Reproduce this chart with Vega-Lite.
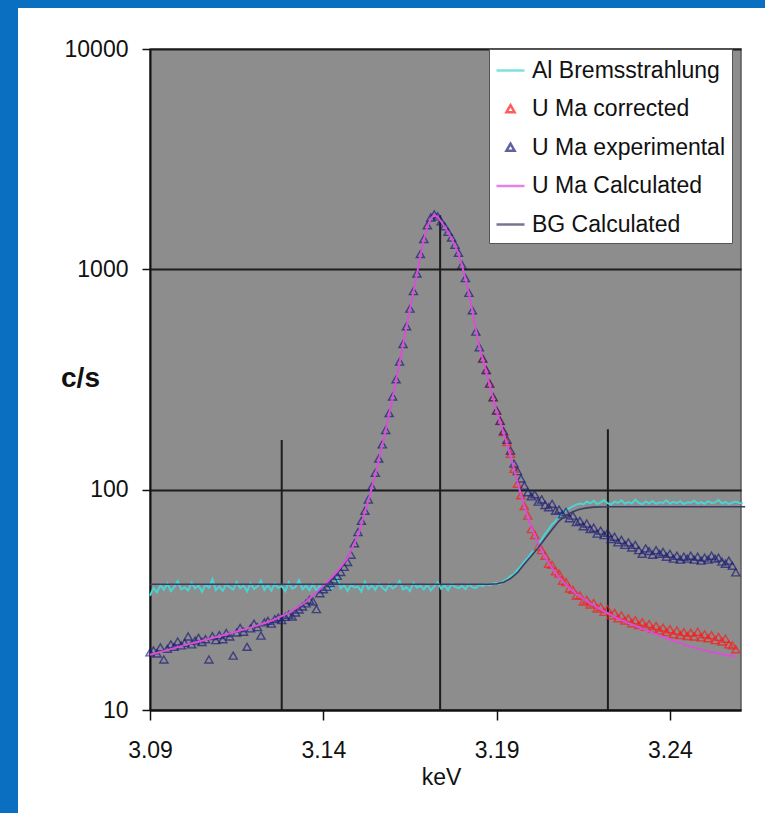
{
  "$schema": "https://vega.github.io/schema/vega-lite/v6.json",
  "width": 591,
  "height": 661,
  "autosize": "none",
  "padding": {"left": 150, "top": 49, "right": 24, "bottom": 103},
  "background": "#ffffff",
  "config": {
    "font": "Liberation Sans",
    "view": {"fill": "#8d8d8d", "stroke": "#5a5a5a", "strokeWidth": 1.5}
  },
  "datasets": {
    "frame": [
      {"keV": 3.0, "keV2": 3.05192, "cps": 1, "cps2": 100000},
      {"keV": 3.0, "keV2": 3.4, "cps": 15352, "cps2": 100000}
    ],
    "markers": [
      {"keV": 3.128, "cps": 168, "cps2": 10},
      {"keV": 3.1737, "cps": 1760, "cps2": 10},
      {"keV": 3.2221, "cps": 188, "cps2": 10}
    ],
    "al": [
      {"keV":3.090,"cps":33.0},{"keV":3.091,"cps":35.8},{"keV":3.092,"cps":34.2},{"keV":3.093,"cps":36.9},{"keV":3.094,"cps":35.1},{"keV":3.095,"cps":37.5},{"keV":3.096,"cps":34.6},{"keV":3.097,"cps":36.2},{"keV":3.098,"cps":38.4},{"keV":3.099,"cps":35.3},
      {"keV":3.100,"cps":36.0},{"keV":3.101,"cps":34.9},{"keV":3.102,"cps":37.8},{"keV":3.103,"cps":35.6},{"keV":3.104,"cps":36.7},{"keV":3.105,"cps":34.4},{"keV":3.106,"cps":37.1},{"keV":3.107,"cps":35.9},{"keV":3.108,"cps":39.2},{"keV":3.109,"cps":35.0},
      {"keV":3.110,"cps":36.4},{"keV":3.111,"cps":34.7},{"keV":3.112,"cps":37.3},{"keV":3.113,"cps":36.1},{"keV":3.114,"cps":35.2},{"keV":3.115,"cps":38.0},{"keV":3.116,"cps":35.7},{"keV":3.117,"cps":36.8},{"keV":3.118,"cps":34.5},{"keV":3.119,"cps":37.6},
      {"keV":3.120,"cps":35.4},{"keV":3.121,"cps":36.3},{"keV":3.122,"cps":38.6},{"keV":3.123,"cps":35.1},{"keV":3.124,"cps":36.9},{"keV":3.125,"cps":34.8},{"keV":3.126,"cps":37.4},{"keV":3.127,"cps":35.8},{"keV":3.128,"cps":36.5},{"keV":3.129,"cps":34.6},
      {"keV":3.130,"cps":37.9},{"keV":3.131,"cps":35.5},{"keV":3.132,"cps":36.2},{"keV":3.133,"cps":38.8},{"keV":3.134,"cps":35.3},{"keV":3.135,"cps":36.7},{"keV":3.136,"cps":35.0},{"keV":3.137,"cps":37.2},{"keV":3.138,"cps":34.9},{"keV":3.139,"cps":36.6},
      {"keV":3.140,"cps":35.7},{"keV":3.141,"cps":37.7},{"keV":3.142,"cps":35.2},{"keV":3.143,"cps":36.4},{"keV":3.144,"cps":39.5},{"keV":3.145,"cps":35.6},{"keV":3.146,"cps":36.9},{"keV":3.147,"cps":34.7},{"keV":3.148,"cps":37.0},{"keV":3.149,"cps":35.9},
      {"keV":3.150,"cps":36.3},{"keV":3.151,"cps":34.5},{"keV":3.152,"cps":38.2},{"keV":3.153,"cps":35.4},{"keV":3.154,"cps":36.8},{"keV":3.155,"cps":35.1},{"keV":3.156,"cps":37.5},{"keV":3.157,"cps":36.0},{"keV":3.158,"cps":34.8},{"keV":3.159,"cps":37.3},
      {"keV":3.160,"cps":35.6},{"keV":3.161,"cps":36.5},{"keV":3.162,"cps":38.5},{"keV":3.163,"cps":35.2},{"keV":3.164,"cps":36.1},{"keV":3.165,"cps":34.6},{"keV":3.166,"cps":37.8},{"keV":3.167,"cps":35.9},{"keV":3.168,"cps":36.7},{"keV":3.169,"cps":35.3},
      {"keV":3.170,"cps":37.1},{"keV":3.171,"cps":34.9},{"keV":3.172,"cps":36.4},{"keV":3.173,"cps":38.0},{"keV":3.174,"cps":35.5},{"keV":3.175,"cps":36.8},{"keV":3.176,"cps":35.0},{"keV":3.177,"cps":37.4},{"keV":3.178,"cps":36.2},{"keV":3.179,"cps":35.7},
      {"keV":3.180,"cps":36.6},{"keV":3.181,"cps":35.3},{"keV":3.182,"cps":37.2},{"keV":3.183,"cps":36.0},{"keV":3.184,"cps":35.8},{"keV":3.185,"cps":37.0},{"keV":3.186,"cps":36.5},{"keV":3.187,"cps":37.3},{"keV":3.188,"cps":36.8},{"keV":3.189,"cps":37.5},
      {"keV":3.190,"cps":37.8},{"keV":3.191,"cps":37.4},{"keV":3.192,"cps":38.6},{"keV":3.193,"cps":39.2},{"keV":3.194,"cps":40.5},{"keV":3.195,"cps":41.4},{"keV":3.196,"cps":43.2},{"keV":3.197,"cps":45.0},{"keV":3.198,"cps":47.2},{"keV":3.199,"cps":49.0},
      {"keV":3.200,"cps":51.5},{"keV":3.201,"cps":53.5},{"keV":3.202,"cps":56.5},{"keV":3.203,"cps":59.5},{"keV":3.204,"cps":63.0},{"keV":3.205,"cps":66.0},{"keV":3.206,"cps":69.5},{"keV":3.207,"cps":72.0},{"keV":3.208,"cps":75.5},{"keV":3.209,"cps":78.0},
      {"keV":3.210,"cps":80.5},{"keV":3.211,"cps":82.5},{"keV":3.212,"cps":84.0},{"keV":3.213,"cps":85.5},{"keV":3.214,"cps":86.5},
      {"keV":3.215,"cps":85.7},{"keV":3.216,"cps":88.3},{"keV":3.217,"cps":86.6},{"keV":3.218,"cps":89.0},{"keV":3.219,"cps":86.1},{"keV":3.220,"cps":87.5},{"keV":3.221,"cps":89.7},{"keV":3.222,"cps":86.8},{"keV":3.223,"cps":85.6},{"keV":3.224,"cps":88.2},
      {"keV":3.225,"cps":87.0},{"keV":3.226,"cps":89.4},{"keV":3.227,"cps":86.3},{"keV":3.228,"cps":87.8},{"keV":3.229,"cps":86.5},{"keV":3.230,"cps":90.0},{"keV":3.231,"cps":87.2},{"keV":3.232,"cps":85.9},{"keV":3.233,"cps":88.4},{"keV":3.234,"cps":86.7},
      {"keV":3.235,"cps":88.8},{"keV":3.236,"cps":86.2},{"keV":3.237,"cps":87.6},{"keV":3.238,"cps":87.1},{"keV":3.239,"cps":89.5},{"keV":3.240,"cps":86.4},{"keV":3.241,"cps":88.0},{"keV":3.242,"cps":86.8},{"keV":3.243,"cps":88.6},{"keV":3.244,"cps":86.0},
      {"keV":3.245,"cps":87.7},{"keV":3.246,"cps":87.3},{"keV":3.247,"cps":89.1},{"keV":3.248,"cps":86.5},{"keV":3.249,"cps":87.9},{"keV":3.250,"cps":86.3},{"keV":3.251,"cps":88.7},{"keV":3.252,"cps":87.0},{"keV":3.253,"cps":87.5},{"keV":3.254,"cps":89.8},
      {"keV":3.255,"cps":86.6},{"keV":3.256,"cps":88.1},{"keV":3.257,"cps":86.1},{"keV":3.258,"cps":87.4},{"keV":3.259,"cps":88.3},{"keV":3.260,"cps":87.0},{"keV":3.261,"cps":86.5}
    ],
    "corr": [
      {"keV":3.186,"cps":392},{"keV":3.187,"cps":348},{"keV":3.188,"cps":302},{"keV":3.189,"cps":262},{"keV":3.190,"cps":228},{"keV":3.191,"cps":204},{"keV":3.192,"cps":182},{"keV":3.193,"cps":164},{"keV":3.194,"cps":145},{"keV":3.195,"cps":124},
      {"keV":3.196,"cps":106},{"keV":3.197,"cps":94},{"keV":3.198,"cps":84},{"keV":3.199,"cps":76},{"keV":3.200,"cps":66},{"keV":3.201,"cps":62},{"keV":3.202,"cps":55},{"keV":3.203,"cps":53},{"keV":3.204,"cps":50},{"keV":3.205,"cps":46},
      {"keV":3.206,"cps":45.5},{"keV":3.207,"cps":42.5},{"keV":3.208,"cps":41.5},{"keV":3.209,"cps":38.5},{"keV":3.210,"cps":38},{"keV":3.211,"cps":35.5},{"keV":3.212,"cps":35},{"keV":3.213,"cps":33},{"keV":3.214,"cps":33},{"keV":3.215,"cps":31},
      {"keV":3.216,"cps":31.5},{"keV":3.217,"cps":30},{"keV":3.218,"cps":30.5},{"keV":3.219,"cps":28.8},{"keV":3.220,"cps":29.3},{"keV":3.221,"cps":27.8},{"keV":3.222,"cps":28.6},{"keV":3.223,"cps":26.8},{"keV":3.224,"cps":27.5},{"keV":3.225,"cps":26},
      {"keV":3.226,"cps":26.8},{"keV":3.227,"cps":25.4},{"keV":3.228,"cps":26},{"keV":3.229,"cps":24.7},{"keV":3.230,"cps":25.5},{"keV":3.231,"cps":24.2},{"keV":3.232,"cps":25},{"keV":3.233,"cps":23.8},{"keV":3.234,"cps":24.5},{"keV":3.235,"cps":23.3},
      {"keV":3.236,"cps":24},{"keV":3.237,"cps":22.9},{"keV":3.238,"cps":23.6},{"keV":3.239,"cps":22.5},{"keV":3.240,"cps":23.2},{"keV":3.241,"cps":22},{"keV":3.242,"cps":22.9},{"keV":3.243,"cps":21.8},{"keV":3.244,"cps":22.5},{"keV":3.245,"cps":21.6},
      {"keV":3.246,"cps":22.4},{"keV":3.247,"cps":21.5},{"keV":3.248,"cps":22.6},{"keV":3.249,"cps":21.3},{"keV":3.250,"cps":22},{"keV":3.251,"cps":21.1},{"keV":3.252,"cps":21.8},{"keV":3.253,"cps":20.7},{"keV":3.254,"cps":21.4},{"keV":3.255,"cps":20.4},
      {"keV":3.256,"cps":21},{"keV":3.257,"cps":19.8},{"keV":3.258,"cps":19.6},{"keV":3.259,"cps":18.8}
    ],
    "exp": [
      {"keV":3.090,"cps":18.2},{"keV":3.091,"cps":18.6},{"keV":3.092,"cps":18.0},{"keV":3.093,"cps":19.2},{"keV":3.094,"cps":16.9},{"keV":3.095,"cps":18.9},{"keV":3.096,"cps":19.8},{"keV":3.097,"cps":19.3},{"keV":3.098,"cps":20.4},{"keV":3.099,"cps":19.6},
      {"keV":3.100,"cps":20.1},{"keV":3.101,"cps":21.5},{"keV":3.102,"cps":19.8},{"keV":3.103,"cps":20.6},{"keV":3.104,"cps":21.2},{"keV":3.105,"cps":20.3},{"keV":3.106,"cps":20.9},{"keV":3.107,"cps":16.9},{"keV":3.108,"cps":21.6},{"keV":3.109,"cps":20.7},
      {"keV":3.110,"cps":21.8},{"keV":3.111,"cps":20.9},{"keV":3.112,"cps":22.3},{"keV":3.113,"cps":21.5},{"keV":3.114,"cps":17.6},{"keV":3.115,"cps":22.4},{"keV":3.116,"cps":23.5},{"keV":3.117,"cps":22.6},{"keV":3.118,"cps":19.3},{"keV":3.119,"cps":23.4},
      {"keV":3.120,"cps":24.6},{"keV":3.121,"cps":23.7},{"keV":3.122,"cps":21.7},{"keV":3.123,"cps":24.9},{"keV":3.124,"cps":25.3},{"keV":3.125,"cps":24.6},{"keV":3.126,"cps":25.8},{"keV":3.127,"cps":26.2},{"keV":3.128,"cps":25.5},{"keV":3.129,"cps":26.4},
      {"keV":3.130,"cps":27.0},{"keV":3.131,"cps":26.5},{"keV":3.132,"cps":27.6},{"keV":3.133,"cps":28.5},{"keV":3.134,"cps":29.4},{"keV":3.135,"cps":30.4},{"keV":3.136,"cps":31.5},{"keV":3.137,"cps":31.0},{"keV":3.138,"cps":28.6},{"keV":3.139,"cps":33.8},
      {"keV":3.140,"cps":35.2},{"keV":3.141,"cps":36.1},{"keV":3.142,"cps":37.6},{"keV":3.143,"cps":39.0},{"keV":3.144,"cps":40.5},{"keV":3.145,"cps":42.2},{"keV":3.146,"cps":44.5},{"keV":3.147,"cps":46.8},{"keV":3.148,"cps":50.5},{"keV":3.149,"cps":57},
      {"keV":3.150,"cps":64},{"keV":3.151,"cps":72},{"keV":3.152,"cps":80},{"keV":3.153,"cps":90},{"keV":3.154,"cps":103},{"keV":3.155,"cps":119},{"keV":3.156,"cps":138},{"keV":3.157,"cps":160},{"keV":3.158,"cps":186},{"keV":3.159,"cps":222},
      {"keV":3.160,"cps":264},{"keV":3.161,"cps":316},{"keV":3.162,"cps":380},{"keV":3.163,"cps":457},{"keV":3.164,"cps":550},{"keV":3.165,"cps":661},{"keV":3.166,"cps":794},{"keV":3.167,"cps":955},{"keV":3.168,"cps":1170},{"keV":3.169,"cps":1370},
      {"keV":3.170,"cps":1580},{"keV":3.171,"cps":1715},{"keV":3.172,"cps":1770},{"keV":3.173,"cps":1735},{"keV":3.174,"cps":1645},{"keV":3.175,"cps":1565},{"keV":3.176,"cps":1475},{"keV":3.177,"cps":1390},{"keV":3.178,"cps":1290},{"keV":3.179,"cps":1185},
      {"keV":3.180,"cps":1045},{"keV":3.181,"cps":910},{"keV":3.182,"cps":780},{"keV":3.183,"cps":650},{"keV":3.184,"cps":520},{"keV":3.185,"cps":442},{"keV":3.186,"cps":392},{"keV":3.187,"cps":348},{"keV":3.188,"cps":302},{"keV":3.189,"cps":262},
      {"keV":3.190,"cps":228},{"keV":3.191,"cps":205},{"keV":3.192,"cps":184},{"keV":3.193,"cps":168},{"keV":3.194,"cps":150},{"keV":3.195,"cps":131},{"keV":3.196,"cps":121},{"keV":3.197,"cps":112},{"keV":3.198,"cps":104},{"keV":3.199,"cps":97},
      {"keV":3.200,"cps":93},{"keV":3.201,"cps":95},{"keV":3.202,"cps":88},{"keV":3.203,"cps":90},{"keV":3.204,"cps":85},{"keV":3.205,"cps":83},{"keV":3.206,"cps":86},{"keV":3.207,"cps":80},{"keV":3.208,"cps":81},{"keV":3.209,"cps":77},
      {"keV":3.210,"cps":79},{"keV":3.211,"cps":74},{"keV":3.212,"cps":76},{"keV":3.213,"cps":71},{"keV":3.214,"cps":72},{"keV":3.215,"cps":68},{"keV":3.216,"cps":70},{"keV":3.217,"cps":66},{"keV":3.218,"cps":67},{"keV":3.219,"cps":63},
      {"keV":3.220,"cps":65},{"keV":3.221,"cps":62},{"keV":3.222,"cps":63.5},{"keV":3.223,"cps":59.5},{"keV":3.224,"cps":61},{"keV":3.225,"cps":57.5},{"keV":3.226,"cps":59},{"keV":3.227,"cps":56},{"keV":3.228,"cps":57.5},{"keV":3.229,"cps":54.5},
      {"keV":3.230,"cps":56},{"keV":3.231,"cps":53},{"keV":3.232,"cps":51},{"keV":3.233,"cps":54},{"keV":3.234,"cps":52.5},{"keV":3.235,"cps":50.5},{"keV":3.236,"cps":53},{"keV":3.237,"cps":51},{"keV":3.238,"cps":52},{"keV":3.239,"cps":49.5},
      {"keV":3.240,"cps":51},{"keV":3.241,"cps":48.5},{"keV":3.242,"cps":50},{"keV":3.243,"cps":48},{"keV":3.244,"cps":49.5},{"keV":3.245,"cps":48.5},{"keV":3.246,"cps":50},{"keV":3.247,"cps":48},{"keV":3.248,"cps":49.5},{"keV":3.249,"cps":47.5},
      {"keV":3.250,"cps":49},{"keV":3.251,"cps":48},{"keV":3.252,"cps":50},{"keV":3.253,"cps":48.5},{"keV":3.254,"cps":49},{"keV":3.255,"cps":47},{"keV":3.256,"cps":46},{"keV":3.257,"cps":47.5},{"keV":3.258,"cps":45},{"keV":3.259,"cps":42}
    ],
    "calc": [
      {"keV":3.090,"cps":17.8},{"keV":3.095,"cps":18.7},{"keV":3.100,"cps":19.7},{"keV":3.105,"cps":20.6},{"keV":3.110,"cps":21.6},{"keV":3.115,"cps":22.7},{"keV":3.120,"cps":23.9},{"keV":3.125,"cps":25.4},{"keV":3.130,"cps":27.6},{"keV":3.135,"cps":31.0},
      {"keV":3.140,"cps":36.5},{"keV":3.144,"cps":42.5},{"keV":3.147,"cps":49.0},{"keV":3.150,"cps":62},{"keV":3.152,"cps":79},{"keV":3.154,"cps":102},{"keV":3.156,"cps":136},{"keV":3.158,"cps":186},{"keV":3.160,"cps":262},{"keV":3.161,"cps":312},
      {"keV":3.162,"cps":378},{"keV":3.163,"cps":456},{"keV":3.164,"cps":548},{"keV":3.165,"cps":660},{"keV":3.166,"cps":790},{"keV":3.167,"cps":950},{"keV":3.168,"cps":1150},{"keV":3.169,"cps":1360},{"keV":3.170,"cps":1560},{"keV":3.171,"cps":1700},
      {"keV":3.172,"cps":1760},{"keV":3.173,"cps":1730},{"keV":3.174,"cps":1645},{"keV":3.175,"cps":1560},{"keV":3.176,"cps":1470},{"keV":3.177,"cps":1380},{"keV":3.178,"cps":1280},{"keV":3.179,"cps":1170},{"keV":3.180,"cps":1040},{"keV":3.181,"cps":905},
      {"keV":3.182,"cps":775},{"keV":3.183,"cps":650},{"keV":3.184,"cps":530},{"keV":3.185,"cps":448},{"keV":3.186,"cps":390},{"keV":3.187,"cps":342},{"keV":3.188,"cps":298},{"keV":3.189,"cps":260},{"keV":3.190,"cps":227},{"keV":3.191,"cps":202},
      {"keV":3.192,"cps":180},{"keV":3.193,"cps":161},{"keV":3.194,"cps":143},{"keV":3.195,"cps":124},{"keV":3.196,"cps":108},{"keV":3.197,"cps":95},{"keV":3.198,"cps":84},{"keV":3.199,"cps":75},{"keV":3.200,"cps":68},{"keV":3.202,"cps":57},
      {"keV":3.204,"cps":49.5},{"keV":3.206,"cps":44},{"keV":3.208,"cps":40},{"keV":3.210,"cps":37},{"keV":3.213,"cps":33.6},{"keV":3.216,"cps":31.2},{"keV":3.220,"cps":28.6},{"keV":3.225,"cps":26},{"keV":3.230,"cps":24.1},{"keV":3.235,"cps":22.4},
      {"keV":3.240,"cps":20.9},{"keV":3.245,"cps":19.6},{"keV":3.250,"cps":18.6},{"keV":3.255,"cps":17.9},{"keV":3.259,"cps":17.5}
    ],
    "bg": [
      {"keV":3.090,"cps":37.2},{"keV":3.188,"cps":37.2},{"keV":3.190,"cps":37.4},{"keV":3.192,"cps":38},{"keV":3.194,"cps":39.5},{"keV":3.196,"cps":42},{"keV":3.198,"cps":46},{"keV":3.200,"cps":50},{"keV":3.202,"cps":54.5},{"keV":3.204,"cps":60},
      {"keV":3.206,"cps":66},{"keV":3.208,"cps":72},{"keV":3.210,"cps":76.5},{"keV":3.212,"cps":79.5},{"keV":3.214,"cps":81.5},{"keV":3.216,"cps":82.7},{"keV":3.218,"cps":83.3},{"keV":3.222,"cps":83.6},{"keV":3.2617,"cps":83.6}
    ]
  },
  "encoding": {
    "x": {
      "field": "keV", "type": "quantitative",
      "scale": {"domain": [3.09, 3.2605], "nice": false, "zero": false},
      "axis": {
        "title": "keV", "values": [3.09, 3.14, 3.19, 3.24], "format": ".2f", "grid": false,
        "domainColor": "#111111", "domainWidth": 2, "tickColor": "#111111", "tickWidth": 1.5, "tickSize": 10,
        "labelFontSize": 23, "labelColor": "#111111", "labelPadding": 19, "labelFlush": false,
        "titleFontSize": 23, "titleFontWeight": "normal", "titleColor": "#111111",
        "titleX": 291, "titleY": 74, "titleBaseline": "alphabetic", "titleAlign": "center"
      }
    },
    "y": {
      "field": "cps", "type": "quantitative",
      "scale": {"type": "log", "domain": [10, 10000], "nice": false},
      "axis": {
        "title": "c/s", "values": [10, 100, 1000, 10000], "format": "d",
        "grid": true, "gridColor": "#1c1c1c", "gridWidth": 2,
        "domainColor": "#111111", "domainWidth": 2, "tickColor": "#111111", "tickWidth": 1.5, "tickSize": 8,
        "labelFontSize": 23, "labelColor": "#111111", "labelPadding": 14,
        "titleFontSize": 28, "titleFontWeight": "bold", "titleColor": "#111111", "titleAngle": 0,
        "titleX": -70, "titleY": 329, "titleAlign": "center", "titleBaseline": "middle"
      }
    }
  },
  "layer": [
    {
      "data": {"name": "frame"},
      "mark": {"type": "rect", "color": "#0a6fc0"},
      "encoding": {
        "x2": {"field": "keV2"},
        "y2": {"field": "cps2"}
      }
    },
    {
      "data": {"name": "markers"},
      "mark": {"type": "rule", "color": "#1c1c1c", "strokeWidth": 2},
      "encoding": {
        "y2": {"field": "cps2"}
      }
    },
    {
      "data": {"name": "al"},
      "mark": {"type": "line", "strokeWidth": 2},
      "encoding": {
        "color": {
          "datum": "Al Bremsstrahlung", "type": "nominal",
          "scale": {
            "domain": ["Al Bremsstrahlung", "U Ma corrected", "U Ma experimental", "U Ma Calculated", "BG Calculated"],
            "range": ["#48d4d4", "#ff1a1a", "#1f1f78", "#d84fd8", "#3c3c60"]
          },
          "legend": {
            "orient": "none", "legendX": 339, "legendY": 0, "title": null,
            "fillColor": "#ffffff", "strokeColor": "#555555", "padding": 6,
            "labelFont": "Liberation Sans", "labelFontSize": 23, "labelColor": "#111111", "labelLimit": 400,
            "symbolSize": 784, "symbolStrokeWidth": 2.5,
            "rowPadding": 10.5, "labelOffset": 6
          }
        }
      }
    },
    {
      "data": {"name": "corr"},
      "mark": {"type": "point", "filled": false, "size": 784, "strokeWidth": 1.4},
      "encoding": {
        "color": {"datum": "U Ma corrected", "type": "nominal"},
        "shape": {
          "datum": "U Ma corrected", "type": "nominal",
          "scale": {
            "domain": ["Al Bremsstrahlung", "U Ma corrected", "U Ma experimental", "U Ma Calculated", "BG Calculated"],
            "range": ["stroke", "M0,-0.27L0.29,0.23L-0.29,0.23Z", "M0,-0.27L0.29,0.23L-0.29,0.23Z", "stroke", "stroke"]
          },
          "legend": {
            "orient": "none", "legendX": 339, "legendY": 0, "title": null,
            "fillColor": "#ffffff", "strokeColor": "#555555", "padding": 6,
            "labelFont": "Liberation Sans", "labelFontSize": 23, "labelColor": "#111111", "labelLimit": 400,
            "symbolSize": 784, "symbolStrokeWidth": 2.5,
            "rowPadding": 10.5, "labelOffset": 6
          }
        }
      }
    },
    {
      "data": {"name": "exp"},
      "mark": {"type": "point", "filled": false, "size": 784, "strokeWidth": 1.4},
      "encoding": {
        "color": {"datum": "U Ma experimental", "type": "nominal"},
        "shape": {"datum": "U Ma experimental", "type": "nominal"}
      }
    },
    {
      "data": {"name": "calc"},
      "mark": {"type": "line", "strokeWidth": 2},
      "encoding": {"color": {"datum": "U Ma Calculated", "type": "nominal"}}
    },
    {
      "data": {"name": "bg"},
      "mark": {"type": "line", "strokeWidth": 1.6},
      "encoding": {"color": {"datum": "BG Calculated", "type": "nominal"}}
    }
  ]
}
